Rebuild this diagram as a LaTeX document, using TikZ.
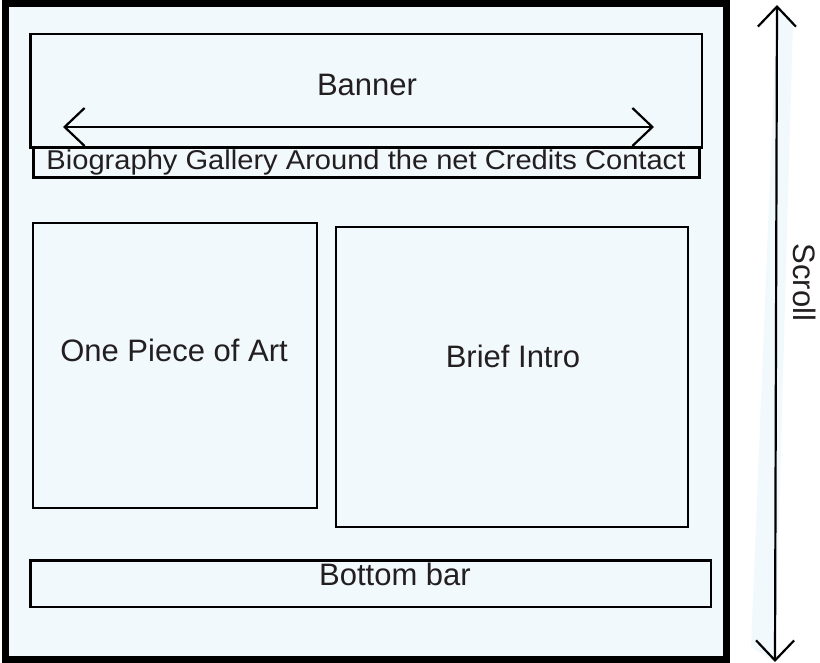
\documentclass[tikz,border=0pt]{standalone}
\usepackage{fontspec}
\setmainfont{Liberation Sans}
\newfontfamily\navfont[FakeStretch=1.07]{Liberation Sans}
\usepackage{tikz}
\usetikzlibrary{positioning,calc,arrows.meta}
\definecolor{PageBlue}{RGB}{241,249,253}
\definecolor{InkGray}{RGB}{35,31,32}

\begin{document}
\begin{tikzpicture}[
    x=0.5pt,
    y=-0.5pt,
    >={Straight Barb[length=10pt,width=19pt]},
    frame/.style={
        draw,
        line width=3.5pt,
        fill=PageBlue,
        inner sep=0pt,
        minimum width=360.5pt,
        minimum height=327.75pt
    },
    panel/.style={
        draw,
        line width=1.15pt,
        inner sep=0pt
    },
    navbox/.style={
        draw,
        line width=1.5pt,
        inner sep=0pt,
        minimum width=333.25pt,
        minimum height=15.25pt
    },
    caption/.style={
        anchor=base,
        inner sep=0pt,
        text=InkGray,
        font=\fontsize{15.5}{18}\selectfont
    },
    arrow/.style={
        <->,
        line width=1.1pt
    }
]
\useasboundingbox (0,0) rectangle (820,663);

% =========================
% Page frame
% =========================
\node[frame] (page) at (366,331.75) {};

% =========================
% Header: banner + menu
% =========================
\node[panel, minimum width=335.75pt, minimum height=56.75pt] (banner) at (366.25,90.75) {};
\node[navbox] (menu) at (366.25,162.75) {};
\node[caption] (bannertext) at (367,96) {Banner};
\node[caption, font=\navfont\fontsize{13.6}{16}\selectfont] (menutext) at (366,170)
    {Biography Gallery Around the net Credits Contact};

\coordinate (swipeL) at (63,127);
\coordinate (swipeR) at (654,127);
\draw[arrow] (swipeL) -- (swipeR);

% =========================
% Content
% =========================
\node[panel, minimum width=142pt, minimum height=142.5pt] (art) at (175,365.5) {};
\node[panel, minimum width=176pt, minimum height=150pt] (intro) at (512,377) {};
\node[caption] (arttext) at (174,361.7) {One Piece of Art};
\node[caption] (introtext) at (513,367.3) {Brief Intro};

% =========================
% Footer
% =========================
\node[panel, minimum width=340.25pt, minimum height=23.25pt] (bottom) at (370.75,583.75) {};
\node[caption] (bottomtext) at (395,585) {Bottom bar};

% =========================
% Scroll indicator
% =========================
\coordinate (scrollT) at (777,5);
\coordinate (scrollB) at (775,662);
\fill[PageBlue] (scrollT) -- (793,21) -- (scrollB) -- (751,647) -- cycle;
\draw[arrow] (scrollT) -- (scrollB);
\node[caption, anchor=center, rotate=-90] (scrolltext) at (805,282.5) {Scroll};

\end{tikzpicture}
\end{document}
